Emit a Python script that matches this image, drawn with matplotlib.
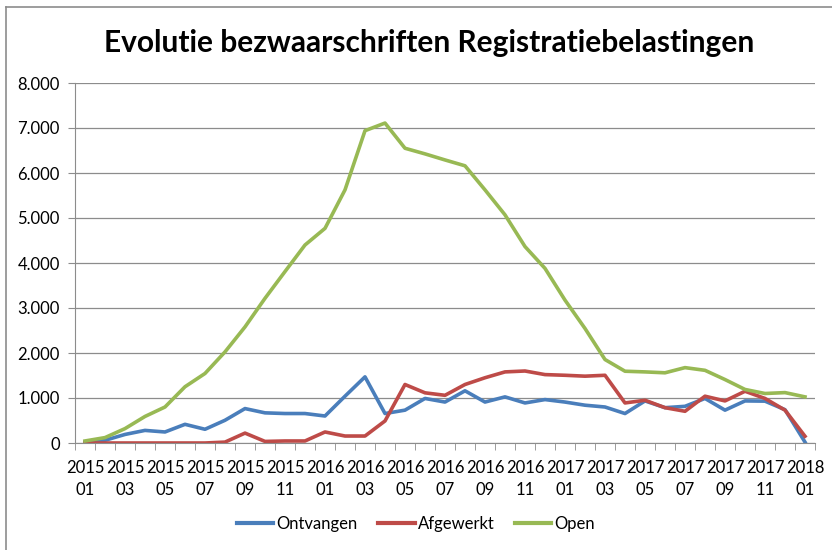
import matplotlib
matplotlib.use("Agg")
import matplotlib.pyplot as plt
from matplotlib.lines import Line2D
from matplotlib.ticker import FuncFormatter, MultipleLocator

# Maandelijkse reeks 2015-01 .. 2018-01
months = ["%d %02d" % (2015 + m // 12, m % 12 + 1) for m in range(37)]

ontvangen = [20, 60, 190, 280, 245, 415, 305, 505, 765, 670, 655, 655, 600,
             1040, 1470, 655, 730, 990, 910, 1160, 910, 1025, 890, 965,
             910, 840, 800, 655, 935, 785, 815, 990, 730, 935, 930, 740, 20]
afgewerkt = [0, 0, 0, 0, 0, 0, 0, 20, 220, 35, 45, 45, 245,
             155, 155, 490, 1300, 1115, 1060, 1300, 1450, 1580, 1600, 1520,
             1505, 1485, 1505, 890, 950, 785, 705, 1040, 935, 1150, 990, 730, 150]
open_ = [45, 120, 320, 590, 800, 1250, 1545, 2025, 2580, 3215, 3810, 4400, 4770,
         5625, 6940, 7110, 6550, 6425, 6290, 6160, 5625, 5070, 4365, 3880,
         3175, 2545, 1855, 1595, 1580, 1560, 1675, 1615, 1410, 1190, 1100, 1120, 1025]

series = [("Ontvangen", ontvangen, "#4a7ebb"),
          ("Afgewerkt", afgewerkt, "#be4b48"),
          ("Open", open_, "#98b954")]

font = ["Lato", "DejaVu Sans"]
plt.rcParams["font.family"] = font

fig = plt.figure(figsize=(8.32, 5.5), dpi=100)
ax = fig.add_axes([75 / 832, 107 / 550, 740 / 832, 360 / 550])

x = list(range(len(months)))
for name, vals, col in series:
    ax.plot(x, vals, color=col, lw=2.6, label=name, solid_joinstyle="round")

ax.set_xlim(-0.5, len(months) - 0.5)
ax.set_ylim(0, 8000)
ax.yaxis.set_major_locator(MultipleLocator(1000))
ax.yaxis.set_major_formatter(FuncFormatter(lambda v, p: "{:,.0f}".format(v).replace(",", ".")))
ax.grid(axis="y", color="#8c8c8c", lw=0.9)
ax.set_axisbelow(True)

# x labels on every second month, tick marks between categories
ax.set_xticks(x[::2])
ax.set_xticklabels([m.replace(" ", "\n") for m in months[::2]], fontsize=12, linespacing=1.5)
ax.set_xticks([i - 0.5 for i in range(len(months) + 1)], minor=True)
ax.tick_params(axis="x", which="major", length=0, pad=12)
ax.tick_params(axis="x", which="minor", length=5, color="#8c8c8c")
ax.tick_params(axis="y", length=5, color="#8c8c8c", labelsize=12, pad=6)

for s in ["top", "right"]:
    ax.spines[s].set_visible(False)
for s in ["left", "bottom"]:
    ax.spines[s].set_color("#8c8c8c")

fig.text(429 / 832, 1 - 43 / 550, "Evolutie bezwaarschriften Registratiebelastingen",
         ha="center", va="center", fontsize=21.5, fontweight="bold")

handles = [Line2D([], [], color=c, lw=3) for _, _, c in series]
fig.legend(handles, [n for n, _, _ in series], loc="center", bbox_to_anchor=(416 / 832, 1 - 524 / 550),
           ncol=3, frameon=False, fontsize=12, handlelength=2.2, handletextpad=0.2, columnspacing=1.2)

# chart area frame (top and left visible)
fig.add_artist(Line2D([6 / 832, 6 / 832], [0, 1 - 7 / 550], transform=fig.transFigure, color="#8c8c8c", lw=1.2))
fig.add_artist(Line2D([6 / 832, 1], [1 - 7 / 550, 1 - 7 / 550], transform=fig.transFigure, color="#8c8c8c", lw=1.2))

plt.savefig("out.png", dpi=100)
